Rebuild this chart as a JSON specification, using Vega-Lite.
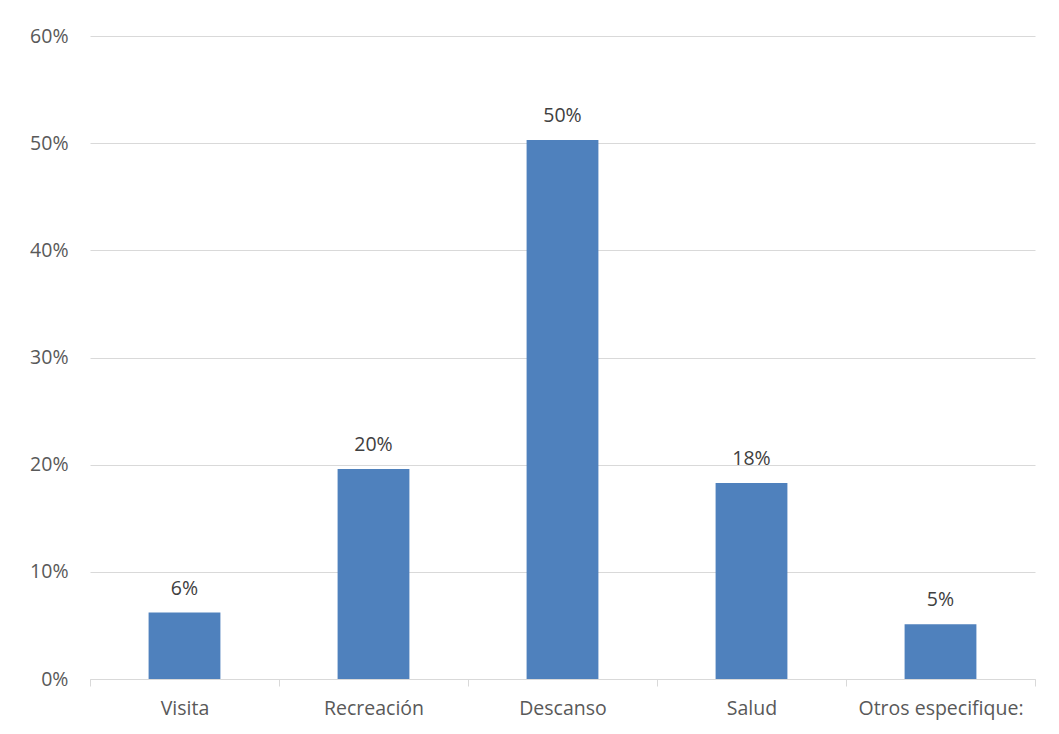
{
  "$schema": "https://vega.github.io/schema/vega-lite/v6.json",
  "autosize": "none",
  "width": 945,
  "height": 643,
  "padding": {"left": 90, "top": 36, "right": 24, "bottom": 55},
  "background": "white",
  "data": {"values": [
    {"cat": "Visita", "v": 0.062},
    {"cat": "Recreación", "v": 0.196},
    {"cat": "Descanso", "v": 0.503},
    {"cat": "Salud", "v": 0.183},
    {"cat": "Otros especifique:", "v": 0.051}
  ]},
  "encoding": {
    "x": {"field": "cat", "type": "nominal", "sort": null,
      "scale": {"paddingInner": 0, "paddingOuter": 0},
      "axis": {"title": null, "labelAngle": 0, "labelFont": "Open Sans", "labelFontSize": 19.5, "labelColor": "#595959",
        "labelPadding": 13, "labelOverlap": false, "domainColor": "#d9d9d9", "tickColor": "#d9d9d9", "tickSize": 7, "tickBand": "extent", "domainWidth": 1}},
    "y": {"field": "v", "type": "quantitative",
      "scale": {"domain": [0, 0.6]},
      "axis": {"title": null, "format": ".0%", "values": [0, 0.1, 0.2, 0.3, 0.4, 0.5, 0.6],
        "labelFont": "Open Sans", "labelFontSize": 19.5, "labelColor": "#595959", "labelPadding": 22,
        "ticks": false, "domain": false, "gridColor": "#d9d9d9", "gridWidth": 1}}
  },
  "layer": [
    {"mark": {"type": "bar", "color": "#4f81bd", "width": {"band": 0.38}}},
    {"mark": {"type": "text", "baseline": "bottom", "dy": -14, "font": "Open Sans", "fontSize": 19.5, "color": "#404040"},
      "encoding": {"text": {"field": "v", "type": "quantitative", "format": ".0%"}}}
  ],
  "config": {"view": {"stroke": null}}
}
